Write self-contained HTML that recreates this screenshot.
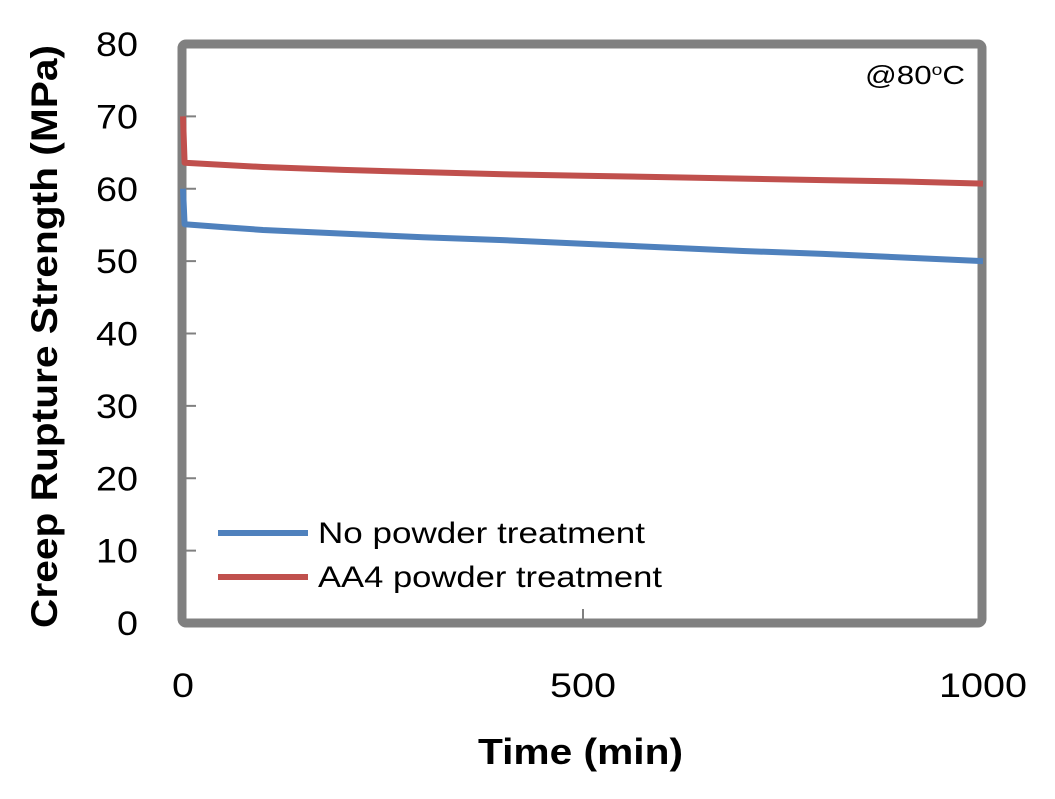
<!DOCTYPE html>
<html><head><meta charset="utf-8"><style>
body{margin:0;background:#fff;}
svg text{font-family:"Liberation Sans",sans-serif;}
</style></head><body>
<svg width="1055" height="794" viewBox="0 0 1055 794" xmlns="http://www.w3.org/2000/svg">
<g id="ticks"></g>
<rect x="182" y="44" width="800" height="579" rx="4" fill="none" stroke="#808080" stroke-width="9"/>
<g id="series"></g>
<g id="labels"></g>
<text x="865" y="84" font-size="26" fill="#000" textLength="100" lengthAdjust="spacingAndGlyphs">@80<tspan font-size="16" dy="-9">o</tspan><tspan dy="9">C</tspan></text>
<text x="478" y="764" font-size="36" font-weight="bold" textLength="205" lengthAdjust="spacingAndGlyphs">Time (min)</text>
<text transform="translate(57,628) rotate(-90)" font-size="37" font-weight="bold" textLength="583" lengthAdjust="spacingAndGlyphs">Creep Rupture Strength  (MPa)</text>
<g>
<line x1="218" y1="533" x2="308" y2="533" stroke="#4f81bd" stroke-width="6"/>
<text x="318" y="543" font-size="30" textLength="327" lengthAdjust="spacingAndGlyphs">No powder treatment</text>
<line x1="218" y1="577" x2="308" y2="577" stroke="#c0504d" stroke-width="6"/>
<text x="318" y="587" font-size="30" textLength="344" lengthAdjust="spacingAndGlyphs">AA4 powder treatment</text>
</g>
</svg>
<script>
const times=[0,2,50,100,200,300,400,500,600,700,800,900,1000];
const noPowder=[60,55.1,54.7,54.3,53.8,53.3,52.9,52.4,51.9,51.4,51.0,50.5,50.0];
const aa4=[70,63.6,63.3,63.0,62.6,62.3,62.0,61.8,61.6,61.4,61.2,61.0,60.7];
const yTicks=[0,10,20,30,40,50,60,70,80];
const xTicks=[0,500,1000];
const NS="http://www.w3.org/2000/svg";
const xs=v=>183+v*0.8;
const ys=v=>623-v*7.2375;
const tg=document.getElementById('ticks'),sg=document.getElementById('series'),lg=document.getElementById('labels');
yTicks.forEach(t=>{
 const l=document.createElementNS(NS,'line');
 l.setAttribute('x1',186);l.setAttribute('x2',196);l.setAttribute('y1',ys(t));l.setAttribute('y2',ys(t));
 l.setAttribute('stroke','#808080');l.setAttribute('stroke-width',2);
 
 
 tg.appendChild(l);
 const tx=document.createElementNS(NS,'text');
 tx.setAttribute('x',138);tx.setAttribute('y',ys(t)+12);tx.setAttribute('font-size',34);tx.setAttribute('text-anchor','end');
 tx.setAttribute('textLength',String(t).length*21);tx.setAttribute('lengthAdjust','spacingAndGlyphs');
 tx.textContent=t;
 
 
 lg.appendChild(tx);
});
xTicks.forEach(t=>{
 if(t>0&&t<1000){const l=document.createElementNS(NS,'line');
 l.setAttribute('x1',xs(t));l.setAttribute('x2',xs(t));l.setAttribute('y1',609);l.setAttribute('y2',619);
 l.setAttribute('stroke','#808080');l.setAttribute('stroke-width',2);
 
 
 tg.appendChild(l);}
 const tx=document.createElementNS(NS,'text');
 tx.setAttribute('x',xs(t));tx.setAttribute('y',697);tx.setAttribute('font-size',34);tx.setAttribute('text-anchor','middle');
 tx.setAttribute('textLength',String(t).length*22);tx.setAttribute('lengthAdjust','spacingAndGlyphs');
 tx.textContent=t;
 
 
 lg.appendChild(tx);
});
function line(vals,color,name){
 const p=document.createElementNS(NS,'polyline');
 p.setAttribute('points',times.map((t,i)=>xs(t)+','+ys(vals[i])).join(' '));
 p.setAttribute('fill','none');p.setAttribute('stroke',color);p.setAttribute('stroke-width',6);p.setAttribute('stroke-linejoin','round');
 
 
 sg.appendChild(p);
}
line(noPowder,'#4f81bd','series-no-powder');
line(aa4,'#c0504d','series-aa4');
</script>
</body></html>
